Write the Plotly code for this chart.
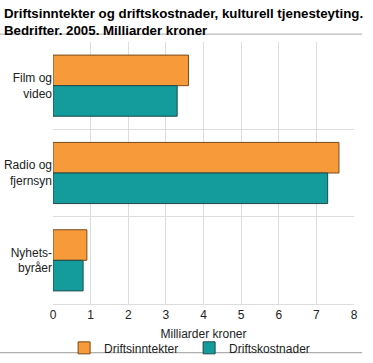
import plotly.graph_objects as go

categories = ["Film og<br>video", "Radio og<br>fjernsyn", "Nyhets-<br>byråer"]
driftsinntekter = [3.6, 7.6, 0.9]
driftskostnader = [3.3, 7.3, 0.8]
x_ticks = [0, 1, 2, 3, 4, 5, 6, 7, 8]

FONT = "Liberation Sans"

fig = go.Figure()
fig.add_trace(go.Bar(
    y=categories, x=driftsinntekter, orientation="h", name="Driftsinntekter",
    marker=dict(color="#F79A3A", line=dict(color="#7a4a1a", width=1)),
))
fig.add_trace(go.Bar(
    y=categories, x=driftskostnader, orientation="h", name="Driftskostnader",
    marker=dict(color="#149C9C", line=dict(color="#1f4a4a", width=1)),
))

fig.update_layout(
    width=373, height=363,
    margin=dict(l=53, r=19, t=42, b=59, autoexpand=False),
    paper_bgcolor="white", plot_bgcolor="white",
    barmode="group", bargap=0.3, bargroupgap=0,
    font=dict(family=FONT, size=12, color="#222"),
    annotations=[dict(
        text="<b>Driftsinntekter og driftskostnader, kulturell tjenesteyting.<br>Bedrifter. 2005. Milliarder kroner</b>",
        xref="paper", yref="paper", x=-0.168, xanchor="left", y=1.145, yanchor="top",
        align="left", showarrow=False,
        font=dict(family=FONT, size=13.3, color="#000"),
    )],
    xaxis=dict(
        range=[0, 8], tickvals=x_ticks, showgrid=True, gridcolor="#dddddd", gridwidth=1,
        zeroline=False, showline=True, linecolor="#dddddd", mirror=False,
        title=dict(text="Milliarder kroner", standoff=8, font=dict(size=12)),
        ticks="", tickfont=dict(size=12), automargin=False,
    ),
    yaxis=dict(
        autorange="reversed", tickson="boundaries", showgrid=True, gridcolor="#dddddd",
        gridwidth=1, ticks="", showline=False, tickfont=dict(size=12), automargin=False,
    ),
    legend=dict(
        orientation="h", xref="container", x=0.507, xanchor="center", y=-0.112, yanchor="top",
        font=dict(size=12), traceorder="normal", bgcolor="rgba(0,0,0,0)",
        entrywidth=80, tracegroupgap=0,
    ),
    shapes=[
        dict(type="line", xref="paper", yref="paper", x0=-0.176, x1=1.027, y0=1.03, y1=1.03,
             line=dict(color="#aaaaaa", width=1)),
        dict(type="line", xref="paper", yref="paper", x0=-0.176, x1=1.027, y0=-0.186, y1=-0.186,
             line=dict(color="#999999", width=1), layer="below"),
    ],
)

fig.write_html("out.html", post_script="document.body.style.margin='0';",
               config={"displayModeBar": False})
